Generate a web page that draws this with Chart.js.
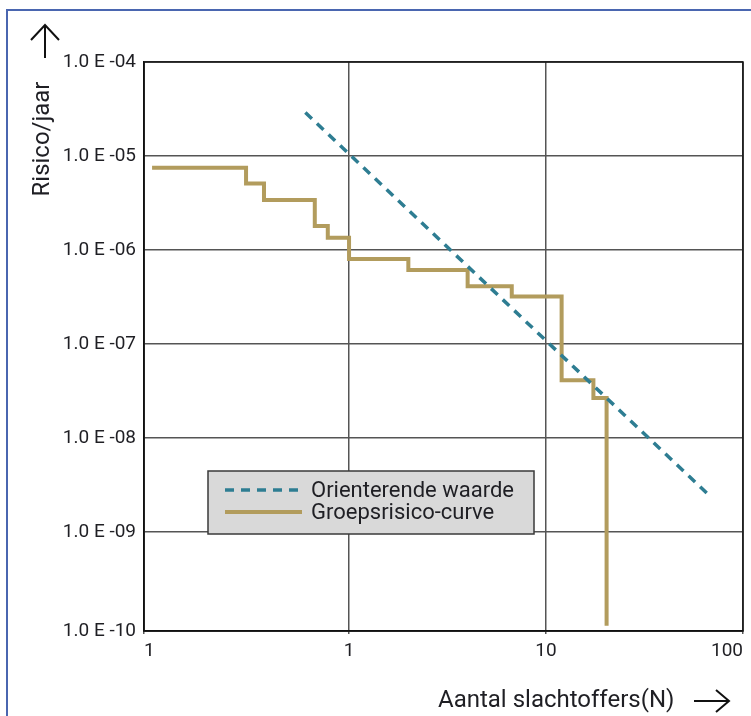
<!DOCTYPE html>
<html><head><meta charset="utf-8">
<script src="https://cdn.jsdelivr.net/npm/chart.js@4"></script>
<style>
html,body{margin:0;padding:0;background:#fff;}
#wrap{position:relative;width:751px;height:716px;overflow:hidden;background:#fff;}
#frame{position:absolute;left:6px;top:9px;width:800px;height:800px;border-left:2px solid #4a66b0;border-top:2px solid #4a66b0;pointer-events:none;}
canvas{position:absolute;left:0;top:0;}
</style></head><body>
<div id="wrap"><canvas id="c" width="751" height="716" style="width:751px;height:716px"></canvas><div id="frame"></div></div>
<script>
// ---- data ----
const seriesLabels = ['Orienterende waarde', 'Groepsrisico-curve'];
const orientN = [0.6, 68];
const orientRisk = [2.9e-5, 2.4e-9];
const groepN = [0.1, 0.3, 0.37, 0.67, 0.78, 1.0, 2.0, 4.0, 6.7, 12, 17.4, 20.3];
const groepRisk = [7.5e-6, 5.1e-6, 3.4e-6, 1.8e-6, 1.35e-6, 8.0e-7, 6.1e-7, 4.1e-7, 3.2e-7, 4.1e-8, 2.65e-8, 1e-10];
const xTickValues = [0.091, 1, 10, 100];
const xTickLabels = ['1', '1', '10', '100'];
const yTickValues = [8.8e-11, 1e-9, 1e-8, 1e-7, 1e-6, 1e-5, 1e-4];
const yTickLabels = ['1.0 E -10', '1.0 E -09', '1.0 E -08', '1.0 E -07', '1.0 E -06', '1.0 E -05', '1.0 E -04'];
const xTitle = 'Aantal slachtoffers(N)';
const yTitle = 'Risico/jaar';

const FONT = 'Roboto, "DejaVu Sans", sans-serif';
const TEXT = '#1f1f24';
const TEAL = '#2e7d92';
const GOLD = '#b29c5d';

const toXY = (xs, ys) => xs.map((x, i) => ({x: x, y: ys[i]}));

const decor = {
  id: 'decor',
  beforeDatasetsDraw(chart) {
    const {ctx, chartArea: a} = chart;
    ctx.save();
    ctx.strokeStyle = '#111';
    ctx.lineWidth = 1.5;
    ctx.strokeRect(a.left, a.top, a.right - a.left, a.bottom - a.top);
    ctx.restore();
  },
  afterDraw(chart) {
    const {ctx, chartArea: a} = chart;
    const ds = chart.data.datasets;
    ctx.save();
    // legend box
    const lx = a.left + 64, ly = a.top + 409, lw = 326, lh = 63;
    ctx.fillStyle = '#d9d9d9';
    ctx.fillRect(lx, ly, lw, lh);
    ctx.strokeStyle = '#3a3a3a';
    ctx.lineWidth = 1.5;
    ctx.strokeRect(lx, ly, lw, lh);
    const rows = [19, 41];
    ds.forEach((d, i) => {
      const y = ly + rows[i];
      ctx.beginPath();
      ctx.setLineDash(d.borderDash || []);
      ctx.strokeStyle = d.borderColor;
      ctx.lineWidth = d.borderWidth;
      ctx.moveTo(lx + 17, y);
      ctx.lineTo(lx + 94, y);
      ctx.stroke();
      ctx.setLineDash([]);
      ctx.fillStyle = TEXT;
      ctx.font = '22px ' + FONT;
      ctx.textAlign = 'left';
      ctx.textBaseline = 'alphabetic';
      ctx.fillText(d.label, lx + 103, y + 7);
    });
    // axis titles
    ctx.fillStyle = TEXT;
    ctx.font = '24px ' + FONT;
    ctx.textAlign = 'left';
    ctx.textBaseline = 'alphabetic';
    ctx.fillText(xTitle, 438, 707);
    ctx.save();
    ctx.translate(49, 139);
    ctx.rotate(-Math.PI / 2);
    ctx.textAlign = 'center';
    ctx.fillText(yTitle, 0, 0);
    ctx.restore();
    // arrows
    ctx.strokeStyle = '#111';
    ctx.lineWidth = 2;
    ctx.beginPath();
    ctx.moveTo(45, 58); ctx.lineTo(45, 25);
    ctx.moveTo(31, 40); ctx.lineTo(45, 25); ctx.lineTo(59, 40);
    ctx.moveTo(694, 701); ctx.lineTo(729, 701);
    ctx.moveTo(716, 690); ctx.lineTo(729, 701); ctx.lineTo(716, 712);
    ctx.stroke();
    ctx.restore();
  }
};

new Chart(document.getElementById('c'), {
  type: 'line',
  data: {
    datasets: [
      {
        label: seriesLabels[0],
        data: toXY(orientN, orientRisk),
        borderColor: TEAL,
        borderWidth: 3.5,
        borderDash: [9, 7],
        pointRadius: 0,
        fill: false,
        tension: 0
      },
      {
        label: seriesLabels[1],
        data: toXY(groepN, groepRisk),
        borderColor: GOLD,
        borderWidth: 4,
        stepped: 'before',
        pointRadius: 0,
        fill: false,
        tension: 0
      }
    ]
  },
  options: {
    responsive: false,
    animation: false,
    devicePixelRatio: 1,
    layout: {padding: {top: 62, right: 8, left: 0, bottom: 0}},
    plugins: {legend: {display: false}, tooltip: {enabled: false}},
    scales: {
      x: {
        type: 'logarithmic',
        min: xTickValues[0],
        max: xTickValues[xTickValues.length - 1],
        afterBuildTicks: s => { s.ticks = xTickValues.map(v => ({value: v})); },
        afterFit: s => { s.height = 85; },
        ticks: {
          callback: (v, i) => xTickLabels[i],
          autoSkip: false, maxRotation: 0, align: 'inner',
          font: {family: FONT, size: 19}, color: TEXT, padding: 6
        },
        grid: {color: '#555', lineWidth: 1.5, tickLength: 3, drawTicks: true},
        border: {display: true, color: '#111', width: 1.5}
      },
      y: {
        type: 'logarithmic',
        min: yTickValues[0],
        max: yTickValues[yTickValues.length - 1],
        afterBuildTicks: s => { s.ticks = yTickValues.map(v => ({value: v})); },
        afterFit: s => { s.width = 144; },
        ticks: {
          callback: (v, i) => yTickLabels[i],
          autoSkip: false,
          font: {family: FONT, size: 19}, color: TEXT, padding: 8
        },
        grid: {color: '#555', lineWidth: 1.5, drawTicks: false},
        border: {display: true, color: '#111', width: 1.5}
      }
    }
  },
  plugins: [decor]
});
</script>
</body></html>
